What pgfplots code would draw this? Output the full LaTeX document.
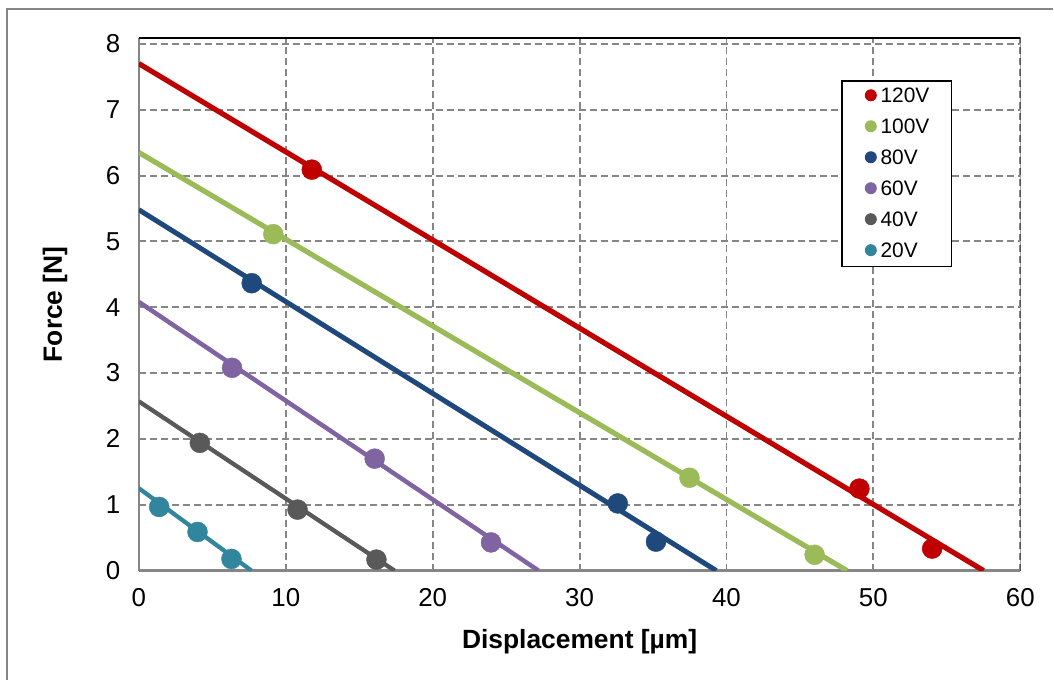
\documentclass[border=0pt]{standalone}
\usepackage{fontspec}
\setmainfont{Liberation Sans}
\usepackage{pgfplots}
\pgfplotsset{compat=1.18}
\definecolor{cA}{HTML}{C00000}
\definecolor{cB}{HTML}{9BBB59}
\definecolor{cC}{HTML}{1F497D}
\definecolor{cD}{HTML}{8064A2}
\definecolor{cE}{HTML}{595959}
\definecolor{cF}{HTML}{31859C}
\definecolor{gridc}{HTML}{868686}
\begin{document}
\begin{tikzpicture}
\begin{axis}[
  at={(0,0)}, anchor=south west,
  scale only axis, width=882bp, height=533bp,
  xmin=0, xmax=60, ymin=0, ymax=8.09,
  xtick={0,10,...,60}, ytick={0,1,...,8},
  major tick length=0pt,
  axis x line*=bottom, axis y line*=left,
  axis line style={gridc, line width=2.2bp, -},
  grid=major,
  major grid style={gridc, line width=1.9bp, dash pattern=on 7bp off 4bp},
  /pgf/number format/assume math mode=true,
  tick label style={font=\fontsize{26}{30}\selectfont},
  xticklabel style={yshift=-14bp},
  yticklabel style={xshift=-15bp},
  xlabel={\bfseries Displacement [µm]},
  ylabel={\bfseries Force [N]},
  label style={font=\fontsize{26.5}{30}\selectfont},
  xlabel style={at={(axis description cs:0.5,-0.1332)}, anchor=center},
  ylabel style={at={(axis description cs:-0.0952,0.5)}, anchor=center},
  legend style={at={(axis description cs:0.797,0.921)}, anchor=north west,
    draw=black, line width=1.5bp, fill=white,
    font=\fontsize{21}{24}\selectfont,
    inner xsep=4bp, inner ysep=0bp, row sep=0bp,
    nodes={inner xsep=1bp, inner ysep=7bp, text height=15bp, text depth=2bp, text width=66bp, align=left}},
  legend cell align=left,
  legend image code/.code={\fill[#1,draw=none] (0bp,1bp) circle (6bp); \path (-24bp,0bp) (8bp,0bp);},
  clip=true,
]
% fitted lines
\addplot[cA, line width=5.2bp, forget plot] coordinates {(0,7.70) (57.5,0)};
\addplot[cB, line width=5.2bp, forget plot] coordinates {(0,6.35) (48.2,0)};
\addplot[cC, line width=5bp, forget plot] coordinates {(0,5.48) (39.3,0)};
\addplot[cD, line width=4.5bp, forget plot] coordinates {(0,4.08) (27.2,0)};
\addplot[cE, line width=4.3bp, forget plot] coordinates {(0,2.57) (17.4,0)};
\addplot[cF, line width=4.3bp, forget plot] coordinates {(0,1.25) (7.66,0)};
% data points
\addplot[only marks, mark=*, mark size=10bp, cA, mark options={draw=none,fill=cA}] coordinates {(11.77,6.09) (49.05,1.245) (54.0,0.334)};
\addlegendentry{120V}
\addplot[only marks, mark=*, mark size=10bp, cB, mark options={draw=none,fill=cB}] coordinates {(9.15,5.11) (37.48,1.41) (46.0,0.24)};
\addlegendentry{100V}
\addplot[only marks, mark=*, mark size=10bp, cC, mark options={draw=none,fill=cC}] coordinates {(7.68,4.365) (32.6,1.02) (35.2,0.44)};
\addlegendentry{80V}
\addplot[only marks, mark=*, mark size=10bp, cD, mark options={draw=none,fill=cD}] coordinates {(6.34,3.08) (16.05,1.70) (23.97,0.428)};
\addlegendentry{60V}
\addplot[only marks, mark=*, mark size=10bp, cE, mark options={draw=none,fill=cE}] coordinates {(4.15,1.94) (10.8,0.926) (16.17,0.167)};
\addlegendentry{40V}
\addplot[only marks, mark=*, mark size=10bp, cF, mark options={draw=none,fill=cF}] coordinates {(1.38,0.967) (3.99,0.587) (6.3,0.177)};
\addlegendentry{20V}
\draw[black, line width=1.5bp] (rel axis cs:0,1) -- (rel axis cs:1,1) -- (rel axis cs:1,0);
\end{axis}
\draw[gridc, line width=1.5bp] (-132bp,-109bp) -- (-132bp,562bp) -- (915bp,562bp);
\path[use as bounding box] (-139bp,-109bp) rectangle (915bp,571bp);
\end{tikzpicture}
\end{document}
